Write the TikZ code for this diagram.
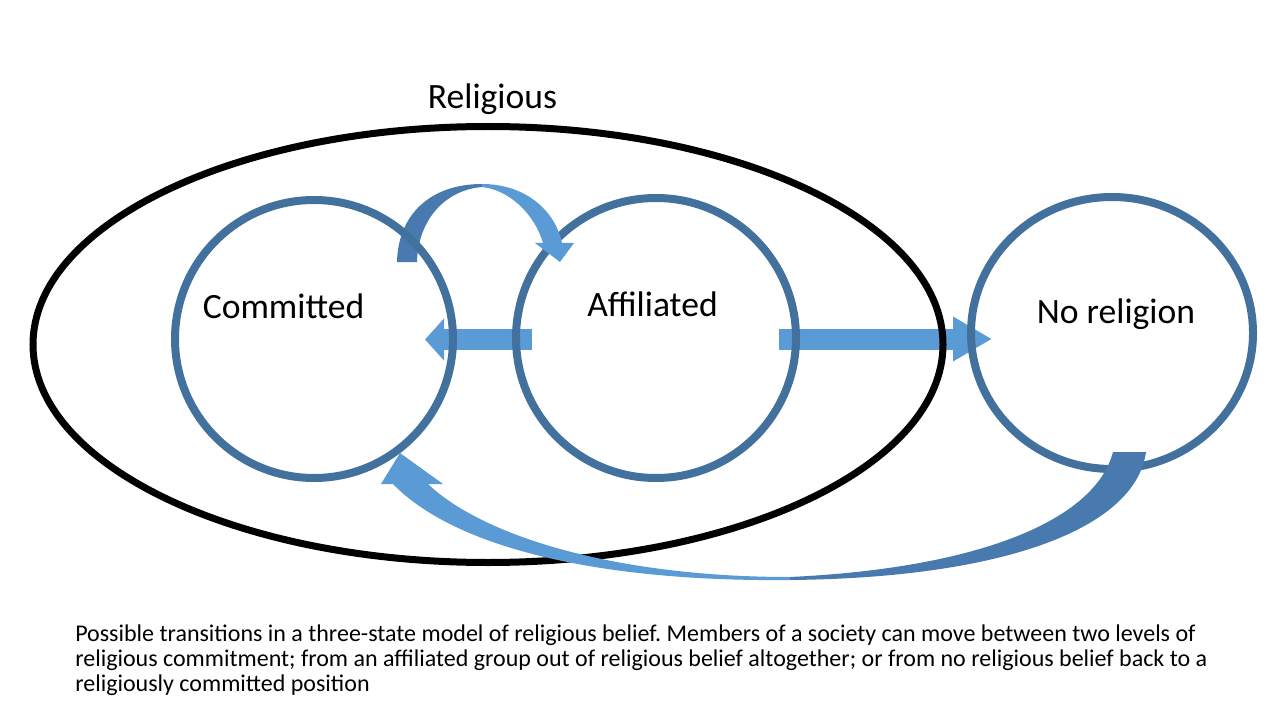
\documentclass[tikz,border=0pt]{standalone}
\usepackage{fontspec}
\setmainfont{Carlito}
\usetikzlibrary{arrows.meta,positioning,shapes.geometric,backgrounds}
\definecolor{ringblue}{RGB}{65,113,156}
\definecolor{flowblue}{RGB}{91,155,213}
\definecolor{flowdark}{RGB}{72,122,176}
\newcommand\capfont{\fontsize{18}{18.4}\selectfont\lineskiplimit=-20pt\frenchspacing\relax}

\begin{document}
\begin{tikzpicture}[x=0.75pt,y=-0.75pt,
    state/.style={ellipse,draw=ringblue,line width=6pt,inner sep=0pt},
    lbl/.style={font=\fontsize{26.7}{32}\selectfont,anchor=base},
    flow/.style={draw=flowblue,line width=15.75pt}]
    \useasboundingbox (0,0) rectangle (1280,720);
        \node[state,draw=black,line width=5.25pt,minimum width=682.5pt,minimum height=327pt] (REL) at (488,344.5) {};
        \node[state,minimum width=210pt,minimum height=210pt] (AFF) at (656,338) {};
        % committed -> affiliated
        \fill[flowdark] (397,262) .. controls (398,215) and (430,184) .. (482,184) -- (482,187) .. controls (445,190) and (418,220) .. (417,262) -- cycle;
        \fill[flowblue] (482,184) .. controls (525,184) and (555,210) .. (562,243) -- (574,243) -- (560,262) -- (535,243) -- (543,243) .. controls (535,215) and (510,190) .. (482,187) -- cycle;
        \node[state,minimum width=208.5pt,minimum height=208.5pt] (COM) at (314,339) {};
        \node[state,minimum width=211.5pt,minimum height=204pt] (NOR) at (1112,333) {};
        % no religion -> committed
        \fill[flowdark] (1146,452) .. controls (1135,530) and (1000,578) .. (790,580) -- (790,577) .. controls (980,568) and (1095,520) .. (1113,452) -- cycle;
        \fill[flowblue] (790,580) .. controls (600,582) and (455,548) .. (393,484) -- (381,484) -- (400,453) -- (443,484) -- (428,484) .. controls (485,538) and (620,577) .. (790,577) -- cycle;
        \node[lbl] (RELT) at ([shift={(4.5,-14)}]REL.north) {Religious};
        \node[lbl] (COMT) at ([shift={(-30.5,-21)}]COM.center) {Committed};
        \node[lbl] (AFFT) at ([shift={(-3.5,-22)}]AFF.center) {Affiliated};
        \node[lbl] (NORT) at ([shift={(4,-10)}]NOR.center) {No religion};
        \begin{scope}[on background layer]
        \draw[flow,-{Triangle[length=14.25pt,width=30.75pt]}] ([shift={(20,1.5)}]AFF.west) -- ([shift={(-32,0.5)}]COM.east);
        \draw[flow,-{Triangle[length=29.25pt,width=31.5pt]}] ([shift={(-21.5,1)}]AFF.east) -- ([shift={(25,6)}]NOR.west);
        \end{scope}
        \node[anchor=base west,align=left,inner sep=0pt,font=\capfont] (CAP) at (75,691) {Possible transitions in a three-state model of religious belief. Members of a society can move between two levels of\\religious commitment; from an affiliated group out of religious belief altogether; or from no religious belief back to a\\religiously committed position};
    \end{tikzpicture}
\end{document}
